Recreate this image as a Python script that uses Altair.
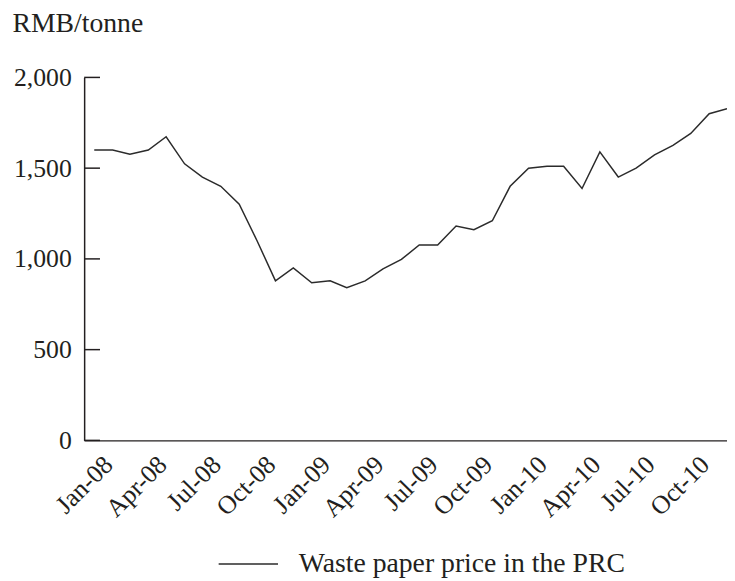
import altair as alt
import pandas as pd

months = [
    "2008-01-01", "2008-02-01", "2008-03-01", "2008-04-01", "2008-05-01", "2008-06-01",
    "2008-07-01", "2008-08-01", "2008-09-01", "2008-10-01", "2008-11-01", "2008-12-01",
    "2009-01-01", "2009-02-01", "2009-03-01", "2009-04-01", "2009-05-01", "2009-06-01",
    "2009-07-01", "2009-08-01", "2009-09-01", "2009-10-01", "2009-11-01", "2009-12-01",
    "2010-01-01", "2010-02-01", "2010-03-01", "2010-04-01", "2010-05-01", "2010-06-01",
    "2010-07-01", "2010-08-01", "2010-09-01", "2010-10-01", "2010-11-01", "2010-12-01",
]
prices = [
    1600, 1600, 1577, 1600, 1673, 1524, 1451, 1400, 1301, 1100, 879, 950,
    868, 879, 841, 879, 945, 997, 1077, 1077, 1181, 1161, 1210, 1400,
    1500, 1510, 1510, 1388, 1590, 1451, 1500, 1573, 1626, 1691, 1800, 1827,
]
series_name = "Waste paper price in the PRC"
y_ticks = [0, 500, 1000, 1500, 2000]
x_tick_dates = [(2008, 1), (2008, 4), (2008, 7), (2008, 10),
                (2009, 1), (2009, 4), (2009, 7), (2009, 10),
                (2010, 1), (2010, 4), (2010, 7), (2010, 10)]

df = pd.DataFrame({"date": months, "price": prices, "series": series_name})
ticks_df = pd.DataFrame({"v": y_ticks})

FONT = "Liberation Serif"
INK = "#231f20"

x_scale = alt.Scale(
    type="utc",
    domain=[alt.DateTime(year=2007, month=12, date=15, utc=True),
            alt.DateTime(year=2010, month=12, date=1, utc=True)],
)
y_scale = alt.Scale(domain=[0, 2000], nice=False)

line = alt.Chart(df).mark_line(strokeWidth=1.5).encode(
    x=alt.X(
        "date:T",
        scale=x_scale,
        axis=alt.Axis(
            values=[alt.DateTime(year=y, month=m, date=1, utc=True) for y, m in x_tick_dates],
            labelExpr="utcFormat(datum.value, '%b-%y')",
            title=None,
            ticks=False,
            grid=False,
            labelAngle=315,
            labelAlign="right",
            labelBaseline="top",
            labelPadding=11,
            labelOffset=5,
            labelFont=FONT,
            labelFontSize=26,
            labelColor=INK,
            labelOverlap=False,
            domainColor=INK,
            domainWidth=1.5,
        ),
    ),
    y=alt.Y(
        "price:Q",
        scale=y_scale,
        axis=alt.Axis(
            values=y_ticks,
            format=",d",
            title="RMB/tonne",
            titleAngle=0,
            titleAlign="left",
            titleBaseline="alphabetic",
            titleX=-73,
            titleY=-46,
            titleFont=FONT,
            titleFontSize=28,
            titleFontWeight="normal",
            titleColor=INK,
            ticks=False,
            grid=False,
            labelPadding=13,
            labelFont=FONT,
            labelFontSize=26,
            labelColor=INK,
            domainColor=INK,
            domainWidth=1.5,
        ),
    ),
    color=alt.Color(
        "series:N",
        scale=alt.Scale(range=["#2b2b2b"]),
        legend=alt.Legend(
            orient="none",
            legendX=135,
            legendY=461,
            title=None,
            symbolType="stroke",
            symbolSize=3600,
            symbolStrokeWidth=1.5,
            labelFont=FONT,
            labelFontSize=28,
            labelColor=INK,
            labelOffset=20,
            labelLimit=0,
            padding=0,
        ),
    ),
)

tick_rules = alt.Chart(ticks_df).mark_rule(color=INK, strokeWidth=1.5).encode(
    y=alt.Y("v:Q", scale=y_scale),
    x=alt.value(0),
    x2=alt.value(16),
)

chart = alt.layer(tick_rules, line).properties(
    width=650,
    height=367,
    background="white",
    autosize=alt.AutoSizeParams(type="none"),
    padding={"left": 77, "top": 67, "right": 0, "bottom": 139},
).configure_view(stroke=None)

chart.save("out.html", embed_options={"renderer": "svg", "actions": False})
